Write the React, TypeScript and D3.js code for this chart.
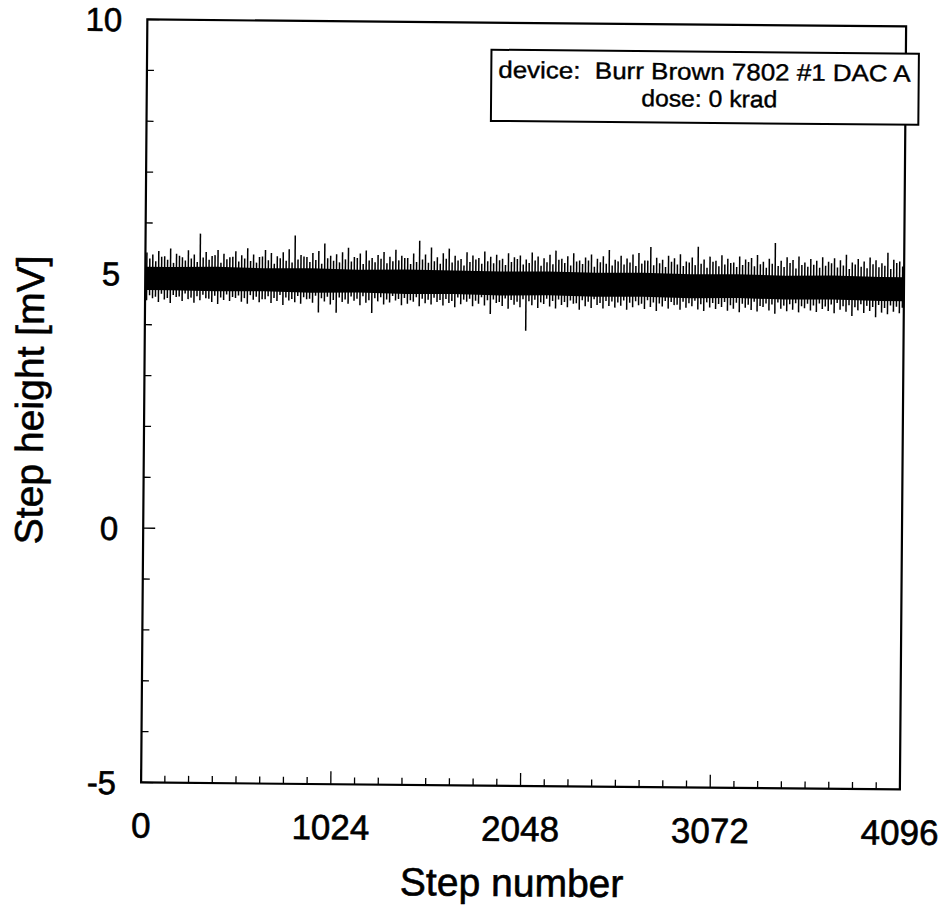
import React from 'react';
import * as d3 from 'd3';

const W = 943;
const H = 916;
const FONT = '"Liberation Sans", Arial, Helvetica, sans-serif';

// axis ticks
const xTickLabels = [0, 1024, 2048, 3072, 4096];
const yTickLabels = [10, 5, 0, -5];

// legend text
const legendLines = ['device:  Burr Brown 7802 #1 DAC A', 'dose: 0 krad'];

// Step-height trace, summarised per bin of 32 steps (128 bins) (mV)
const binSize = 32;
const binHigh = [
  5.42, 5.38, 5.45, 5.35, 5.50, 5.40, 5.33, 5.47, 5.39, 5.80, 5.44, 5.36, 5.48, 5.41, 5.34, 5.46,
  5.38, 5.52, 5.40, 5.35, 5.49, 5.43, 5.37, 5.45, 5.51, 5.78, 5.40, 5.36, 5.44, 5.48, 5.63, 5.39,
  5.42, 5.46, 5.55, 5.37, 5.44, 5.50, 5.35, 5.41, 5.47, 5.38, 5.52, 5.40, 5.36, 5.45, 5.70, 5.43,
  5.57, 5.38, 5.46, 5.55, 5.41, 5.35, 5.48, 5.42, 5.37, 5.50, 5.40, 5.44, 5.36, 5.47, 5.39, 5.43,
  5.35, 5.49, 5.41, 5.38, 5.45, 5.53, 5.37, 5.42, 5.48, 5.34, 5.40, 5.46, 5.38, 5.43, 5.55, 5.36,
  5.44, 5.39, 5.47, 5.50, 5.35, 5.62, 5.41, 5.37, 5.45, 5.40, 5.48, 5.34, 5.42, 5.63, 5.38, 5.44,
  5.36, 5.47, 5.40, 5.33, 5.45, 5.39, 5.42, 5.48, 5.35, 5.41, 5.72, 5.37, 5.44, 5.39, 5.46, 5.34,
  5.41, 5.38, 5.45, 5.36, 5.43, 5.39, 5.50, 5.35, 5.42, 5.37, 5.45, 5.40, 5.34, 5.55, 5.41, 5.38,
];
const binLow = [
  4.48, 4.52, 4.45, 4.50, 4.43, 4.55, 4.47, 4.51, 4.44, 4.49, 4.53, 4.46, 4.42, 4.50, 4.48, 4.54,
  4.47, 4.43, 4.51, 4.46, 4.52, 4.45, 4.49, 4.41, 4.50, 4.47, 4.44, 4.53, 4.46, 4.27, 4.49, 4.43,
  4.27, 4.48, 4.45, 4.51, 4.42, 4.47, 4.27, 4.50, 4.44, 4.48, 4.52, 4.43, 4.46, 4.50, 4.41, 4.47,
  4.45, 4.50, 4.43, 4.48, 4.40, 4.46, 4.51, 4.42, 4.47, 4.44, 4.27, 4.49, 4.43, 4.38, 4.46, 4.41,
  3.95, 4.45, 4.40, 4.48, 4.43, 4.39, 4.46, 4.42, 4.49, 4.37, 4.44, 4.41, 4.47, 4.40, 4.45, 4.42,
  4.46, 4.38, 4.43, 4.47, 4.40, 4.44, 4.36, 4.45, 4.41, 4.48, 4.39, 4.43, 4.46, 4.40, 4.37, 4.44,
  4.41, 4.45, 4.38, 4.42, 4.35, 4.44, 4.40, 4.37, 4.46, 4.39, 4.33, 4.43, 4.38, 4.41, 4.36, 4.44,
  4.40, 4.37, 4.43, 4.39, 4.35, 4.42, 4.38, 4.30, 4.41, 4.36, 4.40, 4.28, 4.37, 4.34, 4.39, 4.36,
];
// secondary (smaller) excursions within each bin
const binHigh2 = [
  5.30, 5.25, 5.34, 5.28, 5.22, 5.36, 5.27, 5.31, 5.24, 5.33, 5.29, 5.38, 5.23, 5.30, 5.35, 5.26,
  5.32, 5.27, 5.24, 5.36, 5.29, 5.22, 5.33, 5.28, 5.25, 5.31, 5.37, 5.26, 5.30, 5.23, 5.34, 5.29,
  5.26, 5.32, 5.28, 5.35, 5.23, 5.30, 5.27, 5.34, 5.25, 5.29, 5.31, 5.36, 5.24, 5.28, 5.33, 5.27,
  5.30, 5.25, 5.35, 5.28, 5.32, 5.22, 5.29, 5.34, 5.26, 5.31, 5.27, 5.33, 5.24, 5.30, 5.36, 5.25,
  5.28, 5.33, 5.23, 5.30, 5.26, 5.35, 5.29, 5.24, 5.32, 5.27, 5.34, 5.22, 5.31, 5.28, 5.25, 5.33,
  5.27, 5.31, 5.24, 5.29, 5.35, 5.26, 5.30, 5.23, 5.33, 5.28, 5.25, 5.32, 5.27, 5.30, 5.22, 5.34,
  5.25, 5.29, 5.32, 5.24, 5.28, 5.34, 5.26, 5.30, 5.23, 5.31, 5.27, 5.25, 5.33, 5.22, 5.29, 5.26,
  5.30, 5.24, 5.28, 5.33, 5.25, 5.29, 5.22, 5.31, 5.27, 5.24, 5.32, 5.26, 5.29, 5.23, 5.35, 5.28,
];
const binLow2 = [
  4.58, 4.55, 4.61, 4.53, 4.59, 4.56, 4.62, 4.54, 4.57, 4.60, 4.52, 4.58, 4.55, 4.61, 4.56, 4.59,
  4.54, 4.60, 4.57, 4.52, 4.58, 4.55, 4.61, 4.56, 4.53, 4.59, 4.57, 4.54, 4.60, 4.55, 4.58, 4.52,
  4.57, 4.53, 4.59, 4.55, 4.60, 4.52, 4.56, 4.58, 4.54, 4.61, 4.55, 4.57, 4.53, 4.59, 4.56, 4.54,
  4.58, 4.54, 4.56, 4.52, 4.59, 4.55, 4.57, 4.53, 4.60, 4.54, 4.56, 4.51, 4.58, 4.55, 4.52, 4.57,
  4.53, 4.56, 4.51, 4.58, 4.54, 4.57, 4.52, 4.55, 4.50, 4.56, 4.53, 4.58, 4.51, 4.55, 4.54, 4.52,
  4.56, 4.52, 4.55, 4.50, 4.57, 4.53, 4.51, 4.56, 4.54, 4.49, 4.55, 4.52, 4.57, 4.50, 4.54, 4.53,
  4.51, 4.55, 4.49, 4.54, 4.52, 4.50, 4.56, 4.48, 4.53, 4.51, 4.55, 4.49, 4.52, 4.54, 4.48, 4.53,
  4.50, 4.54, 4.48, 4.52, 4.55, 4.49, 4.51, 4.47, 4.53, 4.50, 4.48, 4.52, 4.46, 4.51, 4.49, 4.47,
];
// dense core of the trace, per segment of 256 steps
const segSize = 256;
const coreHigh = [5.14, 5.15, 5.13, 5.14, 5.12, 5.13, 5.12, 5.11, 5.12, 5.10, 5.11, 5.09, 5.10, 5.08, 5.09, 5.07];
const coreLow = [4.68, 4.67, 4.68, 4.66, 4.67, 4.65, 4.66, 4.64, 4.65, 4.63, 4.64, 4.62, 4.63, 4.61, 4.62, 4.60];

export default function App() {
  const L = 144, R = 902, T = 23, B = 784;
  const x = d3.scaleLinear().domain([0, 4096]).range([L, R]);
  const y = d3.scaleLinear().domain([-5, 10]).range([B, T]);

  const core = coreHigh.map((h, i) => ({ s: i * segSize + segSize / 2, h, l: coreLow[i] }));
  const coreFull = [{ s: 0, h: coreHigh[0], l: coreLow[0] }, ...core,
    { s: 4096, h: coreHigh[coreHigh.length - 1], l: coreLow[coreLow.length - 1] }];
  const area = d3.area<{ s: number; h: number; l: number }>()
    .x(d => x(d.s)).y0(d => y(d.l)).y1(d => y(d.h));

  const xMinor = d3.range(0, 4096 + 1, 128);
  const yMinor = d3.range(-5, 10 + 1, 1);

  // slight skew of the scanned page
  const skew = 'matrix(1.001, 0.0092, -0.0082, 1.0026, 3.4, -4.9)';
  const txtStroke = { stroke: '#000', strokeWidth: 0.6 };

  return (
    <div style={{ position: 'absolute', left: 0, top: 0 }}>
      <svg width={W} height={H} style={{ display: 'block', background: '#fff' }} fontFamily={FONT}>
        <g transform={skew}>
          {/* data */}
          <path d={area(coreFull) || ''} fill="#000" />
          {binHigh.map((h, i) => (
            <line key={'a' + i} x1={x(i * binSize + 8)} x2={x(i * binSize + 8)}
              y1={y(binLow[i])} y2={y(h)} stroke="#000" strokeWidth={1.5} />
          ))}
          {binHigh2.map((h, i) => (
            <line key={'b' + i} x1={x(i * binSize + 24)} x2={x(i * binSize + 24)}
              y1={y(binLow2[i])} y2={y(h)} stroke="#000" strokeWidth={1.5} />
          ))}

          {/* frame */}
          <rect x={L} y={T} width={R - L} height={B - T} fill="none" stroke="#000" strokeWidth={2.2} />

          {/* y ticks */}
          {yMinor.map(v => (
            <line key={'yt' + v} x1={x(0)} x2={x(0) + (v % 5 === 0 ? 12 : 7)} y1={y(v)} y2={y(v)}
              stroke="#000" strokeWidth={1.3} />
          ))}
          {/* x ticks */}
          {xMinor.map(v => (
            <line key={'xt' + v} x1={x(v)} x2={x(v)} y1={y(-5)} y2={y(-5) - (v % 1024 === 0 ? 13 : 7)}
              stroke="#000" strokeWidth={1.3} />
          ))}

          {/* y tick labels */}
          {yTickLabels.map(v => (
            <text key={'yl' + v} x={L - 25} y={y(v)} dy="0.36em" textAnchor="end" fontSize={33} {...txtStroke}>{v}</text>
          ))}
          {/* x tick labels */}
          {xTickLabels.map(v => (
            <text key={'xl' + v} x={x(v)} y={B + 55} textAnchor="middle" fontSize={35} {...txtStroke}>{v}</text>
          ))}

          {/* axis titles */}
          <text x={515} y={B + 110} textAnchor="middle" fontSize={39} {...txtStroke}>Step number</text>
          <text transform={`translate(43, ${(T + B) / 2}) rotate(-90)`} textAnchor="middle" fontSize={39} {...txtStroke}>
            Step height [mV]
          </text>

          {/* legend */}
          <rect x={488} y={50} width={427} height={71} fill="#fff" stroke="#000" strokeWidth={2} />
          <text x={701} y={78} textAnchor="middle" fontSize={23.5} textLength={412} lengthAdjust="spacingAndGlyphs"
            style={{ whiteSpace: 'pre' }} {...txtStroke} strokeWidth={0.4}>{legendLines[0]}</text>
          <text x={706} y={105} textAnchor="middle" fontSize={23.5} textLength={136} lengthAdjust="spacingAndGlyphs"
            {...txtStroke} strokeWidth={0.4}>{legendLines[1]}</text>
        </g>
      </svg>
    </div>
  );
}
